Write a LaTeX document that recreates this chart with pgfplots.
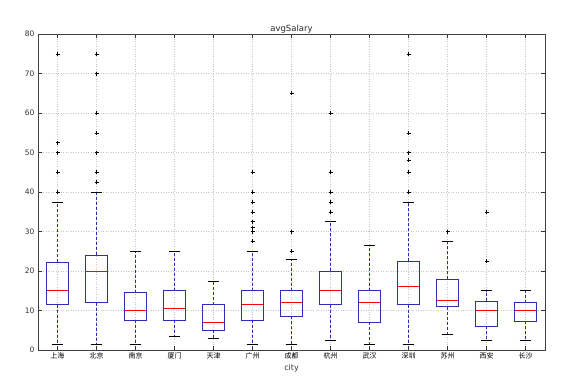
\documentclass[border=0pt]{standalone}
\usepackage{fontspec}
\setmainfont{DejaVu Sans}
\newfontfamily\cjk{Noto Sans CJK SC}
\usepackage{pgfplots}
\pgfplotsset{compat=1.18}
\usepgfplotslibrary{statistics}
\definecolor{mbblue}{RGB}{45,45,185}
\pgfplotsset{
  mybox/.style={
    solid, draw=mbblue, line width=0.7pt,
    mark=+, mark size=2pt, mark options={black, solid, line width=0.45pt},
    boxplot/draw direction=y,
    boxplot/box extend=0.55, boxplot/whisker extend=0.3,
    boxplot/every median/.style={red, solid, line width=0.7pt},
    boxplot/draw/lower whisker/.code={%
      \draw[mbblue, dash pattern=on 3pt off 2pt, line width=0.7pt]
        (boxplot cs:\pgfplotsboxplotvalue{lower quartile}) -- (boxplot cs:\pgfplotsboxplotvalue{lower whisker});
      \draw[black, solid, line width=0.7pt]
        (boxplot whisker cs:\pgfplotsboxplotvalue{lower whisker},0) -- (boxplot whisker cs:\pgfplotsboxplotvalue{lower whisker},1);
    },
    boxplot/draw/upper whisker/.code={%
      \draw[mbblue, dash pattern=on 3pt off 2pt, line width=0.7pt]
        (boxplot cs:\pgfplotsboxplotvalue{upper quartile}) -- (boxplot cs:\pgfplotsboxplotvalue{upper whisker});
      \draw[black, solid, line width=0.7pt]
        (boxplot whisker cs:\pgfplotsboxplotvalue{upper whisker},0) -- (boxplot whisker cs:\pgfplotsboxplotvalue{upper whisker},1);
    },
  }
}
\begin{document}
\begin{tikzpicture}
\begin{axis}[
  scale only axis, width=507pt, height=316pt,
  xmin=0.5, xmax=13.5, ymin=0, ymax=80,
  xtick={1,...,13},
  xticklabels={上海,北京,南京,厦门,天津,广州,成都,杭州,武汉,深圳,苏州,西安,长沙},
  xticklabel style={font=\cjk\fontsize{7}{8}\selectfont, yshift=1pt},
  ytick={0,10,...,80},
  yticklabel style={font=\fontsize{7.5}{9}\selectfont, text=black!80},
  /pgf/number format/assume math mode=true,
  tick align=inside, xtick pos=both, ytick pos=both,
  major tick length=4pt,
  tick style={black!80, line width=0.5pt},
  grid=major, major grid style={gray!45, dash pattern=on 1pt off 1.5pt, line width=0.45pt},
  axis line style={black!75, line width=0.8pt},
  title={avgSalary}, title style={font=\fontsize{8.5}{10}\selectfont, text=black!85, yshift=-9pt},
  xlabel={city}, xlabel style={font=\fontsize{8}{10}\selectfont, text=black!80, yshift=2pt},
]
\addplot[mybox, boxplot prepared={draw position=1, lower whisker=1.5, lower quartile=11.5, median=15, upper quartile=22.3, upper whisker=37.5}]
  table[row sep=\\, y index=0]{d\\40\\45\\50\\52.5\\75\\};
\addplot[mybox, boxplot prepared={draw position=2, lower whisker=1.5, lower quartile=12, median=20, upper quartile=24, upper whisker=40}]
  table[row sep=\\, y index=0]{d\\42.5\\45\\50\\55\\60\\70\\75\\};
\addplot[mybox, boxplot prepared={draw position=3, lower whisker=1.5, lower quartile=7.5, median=10, upper quartile=14.5, upper whisker=25}]
  coordinates {};
\addplot[mybox, boxplot prepared={draw position=4, lower whisker=3.5, lower quartile=7.5, median=10.5, upper quartile=15, upper whisker=25}]
  coordinates {};
\addplot[mybox, boxplot prepared={draw position=5, lower whisker=3, lower quartile=5, median=7, upper quartile=11.5, upper whisker=17.5}]
  coordinates {};
\addplot[mybox, boxplot prepared={draw position=6, lower whisker=1.5, lower quartile=7.5, median=11.5, upper quartile=15, upper whisker=25}]
  table[row sep=\\, y index=0]{d\\27.5\\30\\31\\32.5\\35\\37.5\\40\\45\\};
\addplot[mybox, boxplot prepared={draw position=7, lower whisker=1.5, lower quartile=8.5, median=12, upper quartile=15, upper whisker=23}]
  table[row sep=\\, y index=0]{d\\25\\30\\65\\};
\addplot[mybox, boxplot prepared={draw position=8, lower whisker=2.5, lower quartile=11.5, median=15, upper quartile=20, upper whisker=32.5}]
  table[row sep=\\, y index=0]{d\\35\\37.5\\40\\45\\60\\};
\addplot[mybox, boxplot prepared={draw position=9, lower whisker=1.5, lower quartile=7, median=12, upper quartile=15, upper whisker=26.5}]
  coordinates {};
\addplot[mybox, boxplot prepared={draw position=10, lower whisker=1.5, lower quartile=11.5, median=16, upper quartile=22.5, upper whisker=37.5}]
  table[row sep=\\, y index=0]{d\\40\\45\\48\\50\\55\\75\\};
\addplot[mybox, boxplot prepared={draw position=11, lower whisker=4, lower quartile=11, median=12.5, upper quartile=18, upper whisker=27.5}]
  table[row sep=\\, y index=0]{d\\30\\};
\addplot[mybox, boxplot prepared={draw position=12, lower whisker=2.5, lower quartile=6, median=10, upper quartile=12.3, upper whisker=15}]
  table[row sep=\\, y index=0]{d\\22.5\\35\\};
\addplot[mybox, boxplot prepared={draw position=13, lower whisker=2.5, lower quartile=7.3, median=10, upper quartile=12, upper whisker=15}]
  coordinates {};
\end{axis}
\pgfresetboundingbox
\path[use as bounding box] (-38pt,-38pt) rectangle (545pt,350pt);
\end{tikzpicture}
\end{document}
